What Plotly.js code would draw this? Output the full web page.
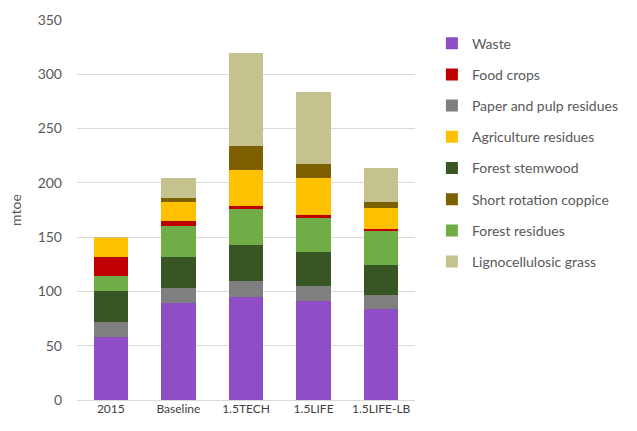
<!DOCTYPE html>
<html>
<head>
<meta charset="utf-8">
<script src="https://cdn.plot.ly/plotly-3.0.1.min.js"></script>
<style>html,body{margin:0;padding:0;background:#fff;}#chart{width:637px;height:431px;}</style>
</head>
<body>
<div id="chart"></div>
<script>
const categories = ["2015", "Baseline", "1.5TECH", "1.5LIFE", "1.5LIFE-LB"];

const waste        = [58, 89, 95, 91, 84];
const paperPulp    = [14, 14, 15, 14, 12.5];
const stemwood     = [28, 28.5, 33, 31, 27.5];
const forestRes    = [14, 29, 33, 31.5, 31.5];
const foodCrops    = [17.5, 4, 3, 3, 2];
const agriRes      = [18, 18, 32.5, 34, 19];
const coppice      = [0, 4, 22.5, 13, 6];
const lignoGrass   = [1, 18, 86, 66.5, 31.5];

const seriesNames = ["Waste", "Paper and pulp residues", "Forest stemwood", "Forest residues",
                     "Food crops", "Agriculture residues", "Short rotation coppice", "Lignocellulosic grass"];
const seriesValues = [waste, paperPulp, stemwood, forestRes, foodCrops, agriRes, coppice, lignoGrass];
const seriesColors = ["#8E4FC6", "#7F7F7F", "#375623", "#70AD47", "#C00000", "#FFC000", "#7F6000", "#C4C28E"];
const legendOrder = ["Waste", "Food crops", "Paper and pulp residues", "Agriculture residues",
                     "Forest stemwood", "Short rotation coppice", "Forest residues", "Lignocellulosic grass"];

const traces = seriesNames.map((n, i) => ({
  type: "bar",
  name: n,
  x: categories,
  y: seriesValues[i],
  marker: {color: seriesColors[i], line: {width: 0}},
  legendgroup: n,
  legendrank: legendOrder.indexOf(n) + 1,
  hoverinfo: "x+y+name"
}));

const layout = {
  width: 637, height: 431,
  margin: {l: 77, r: 222, t: 20, b: 31},
  barmode: "stack",
  bargap: 0.49,
  paper_bgcolor: "#fff",
  plot_bgcolor: "#fff",
  font: {family: "Lato, 'Open Sans', sans-serif", color: "#595959"},
  xaxis: {
    type: "category",
    tickfont: {size: 12, color: "#404040"},
    showgrid: false,
    showline: false,
    ticks: "",
    automargin: false
  },
  yaxis: {
    range: [0, 350],
    dtick: 50,
    showgrid: true,
    gridcolor: "#D9D9D9",
    gridwidth: 1,
    zeroline: true,
    zerolinecolor: "#D9D9D9",
    tickfont: {size: 14, color: "#595959"},
    ticks: "",
    ticklabelstandoff: 14,
    automargin: false,
    title: {text: "mtoe", font: {size: 14, color: "#595959"}, standoff: 12}
  },
  legend: {
    x: 1.05, xanchor: "left",
    y: 0.98, yanchor: "top",
    traceorder: "grouped",
    tracegroupgap: 10,
    font: {size: 14, color: "#595959"},
    itemwidth: 30
  },
  showlegend: true
};

Plotly.newPlot("chart", traces, layout, {displayModeBar: false, staticPlot: true});
</script>
</body>
</html>
